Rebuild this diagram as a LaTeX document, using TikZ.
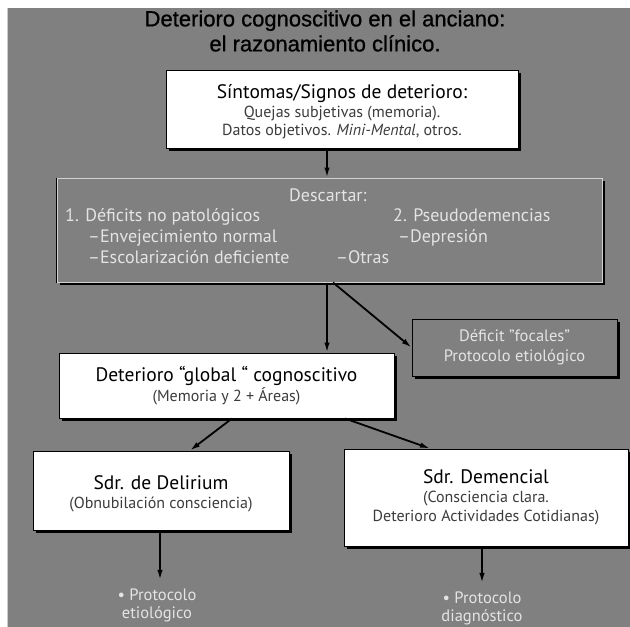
\documentclass[tikz,border=0pt]{standalone}
\usepackage{fontspec}
\setmainfont{PT Sans}
\newfontfamily\titlefont[FakeBold=0.8]{Liberation Sans}
\usetikzlibrary{arrows.meta,shadows}
\definecolor{fondo}{HTML}{808080}
\definecolor{clarito}{HTML}{E4E4E4}
\definecolor{oscuro}{HTML}{3C3C3C}
\newcommand{\cabecera}{\fontsize{19.5}{22}\selectfont}
\newcommand{\detalle}{\fontsize{16}{18.5}\selectfont}

\begin{document}
\begin{tikzpicture}[x=1pt,y=-1pt,
  caja/.style={draw=black,line width=1pt,fill=white,align=center,inner sep=0pt,
    drop shadow={shadow xshift=2.5pt,shadow yshift=-2.5pt,fill=black,opacity=1}},
  cajagris/.style={caja,fill=fondo,draw=#1,text=clarito,font=\fontsize{16.5}{19.5}\selectfont},
  textogris/.style={text=clarito,font=\fontsize{18}{21}\selectfont,inner sep=0pt,anchor=base west},
  flecha/.style={line width=1.8pt,-{Latex[length=10pt,width=5.5pt]}}]
  \useasboundingbox (0,0) rectangle (630,627);
  % fondo gris
  \fill[fondo] (7,8) rectangle (630,627);
  \draw[gray!40,line width=1pt] (7,8) -- (7,627);

  % titulo
  \node[font=\titlefont\fontsize{22}{25}\selectfont,align=center] (titulo) at (325,31)
    {Deterioro cognoscitivo en el anciano:\\el razonamiento clínico.};

  % sintomas
  \node[caja,minimum width=352pt,minimum height=78pt,font=\detalle] (sintomas) at (342,109)
    {{\cabecera\rule{0pt}{19.5pt}Síntomas/Signos de deterioro:}\\[0pt]
     {\color{oscuro}Quejas subjetivas (memoria).}\\
     {\color{oscuro}Datos objetivos. \textit{Mini-Mental}, otros.}};

  % descartar
  \node[cajagris=gray!35,minimum width=545pt,minimum height=104pt] (descartar) at (329.5,230) {};
  \draw[black,line width=1pt] (descartar.north west) -- (descartar.south west);
  \node[textogris] (descTit) at (289,201) {Descartar:};
  \node[textogris] (noPatol) at (65,221) {1. Déficits no patológicos};
  \node[textogris] (envejec) at (88,242) {--Envejecimiento normal};
  \node[textogris] (escolar) at (88,263) {--Escolarización deficiente};
  \node[textogris] (pseudo) at (393,221) {2. Pseudodemencias};
  \node[textogris] (depres) at (398,242) {--Depresión};
  \node[textogris] (otras) at (336,263) {--Otras};

  % focales
  \node[cajagris=black,minimum width=205pt,minimum height=57pt] (focales) at (514.5,347.5)
    {Déficit "focales"\\Protocolo etiológico};

  % deterioro global
  \node[caja,minimum width=335pt,minimum height=65pt,font=\detalle] (global) at (226.5,385.5)
    {{\cabecera Deterioro “global “ cognoscitivo}\\[1pt]
     {\color{oscuro}(Memoria y 2 + Áreas)}};

  % delirium y demencia
  \node[caja,minimum width=256pt,minimum height=79pt,font=\detalle] (delirium) at (161,490.5)
    {{\cabecera\rule{0pt}{21pt}Sdr. de Delirium}\\[1pt]
     {\color{oscuro}(Obnubilación consciencia)}};
  \node[caja,minimum width=284pt,minimum height=97pt,font=\detalle] (demencial) at (486,497.5)
    {{\cabecera Sdr. Demencial}\\[0pt]
     {\color{oscuro}(Consciencia clara.}\\[1pt]
     {\color{oscuro}Deterioro Actividades Cotidianas)}};

  % protocolos
  \node[text=clarito,font=\fontsize{16.5}{18}\selectfont,align=center] (protoEtio) at (157,605)
    {• Protocolo\\etiológico};
  \node[text=clarito,font=\fontsize{16.5}{18}\selectfont,align=center] (protoDiag) at (482,608)
    {• Protocolo\\diagnóstico};

  % flechas
  \draw[flecha] ([xshift=-15pt]sintomas.south) -- ([xshift=-15pt]sintomas.south |- descartar.north);
  \draw[flecha] ([xshift=-2.5pt]descartar.south) -- ([xshift=-2.5pt]descartar.south |- global.north);
  \draw[flecha] ([xshift=3.5pt]descartar.south) -- (focales.west);
  \draw[flecha] ([xshift=5.5pt]global.south) -- ([xshift=29pt]delirium.north);
  \draw[flecha] ([xshift=118.5pt]global.south) -- ([xshift=-56pt]demencial.north);
  \draw[flecha,shorten >=5pt] ([xshift=-1pt]delirium.south) -- ([xshift=-1pt]delirium.south |- protoEtio.north);
  \draw[flecha,shorten >=5pt] ([xshift=-4pt]demencial.south) -- ([xshift=-4pt]demencial.south |- protoDiag.north);
\end{tikzpicture}
\end{document}
